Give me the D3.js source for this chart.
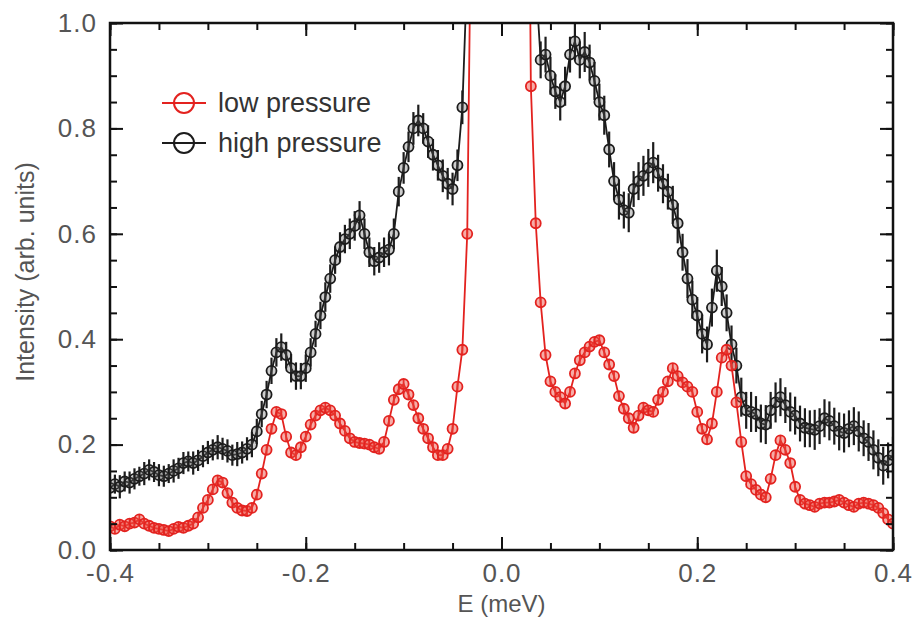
<!DOCTYPE html>
<html>
<head>
<meta charset="utf-8">
<script src="https://cdn.jsdelivr.net/npm/d3@7"></script>
<style>
  body { margin: 0; background: #fff; }
  svg { display: block; font-family: "Liberation Sans", Arial, sans-serif; }
</style>
</head>
<body>
<div id="chart"></div>
<script>
// energy transfer (meV), same grid for both spectra
const energy = [
  -0.400,-0.395,-0.390,-0.385,-0.380,-0.375,-0.370,-0.365,-0.360,-0.355,
  -0.350,-0.345,-0.340,-0.335,-0.330,-0.325,-0.320,-0.315,-0.310,-0.305,
  -0.300,-0.295,-0.290,-0.285,-0.280,-0.275,-0.270,-0.265,-0.260,-0.255,
  -0.250,-0.245,-0.240,-0.235,-0.230,-0.225,-0.220,-0.215,-0.210,-0.205,
  -0.200,-0.195,-0.190,-0.185,-0.180,-0.175,-0.170,-0.165,-0.160,-0.155,
  -0.150,-0.145,-0.140,-0.135,-0.130,-0.125,-0.120,-0.115,-0.110,-0.105,
  -0.100,-0.095,-0.090,-0.085,-0.080,-0.075,-0.070,-0.065,-0.060,-0.055,
  -0.050,-0.045,-0.040,-0.035,-0.030,-0.025,-0.020,-0.015,-0.010,-0.005,
   0.000, 0.005, 0.010, 0.015, 0.020, 0.025, 0.030, 0.035, 0.040, 0.045,
   0.050, 0.055, 0.060, 0.065, 0.070, 0.075, 0.080, 0.085, 0.090, 0.095,
   0.100, 0.105, 0.110, 0.115, 0.120, 0.125, 0.130, 0.135, 0.140, 0.145,
   0.150, 0.155, 0.160, 0.165, 0.170, 0.175, 0.180, 0.185, 0.190, 0.195,
   0.200, 0.205, 0.210, 0.215, 0.220, 0.225, 0.230, 0.235, 0.240, 0.245,
   0.250, 0.255, 0.260, 0.265, 0.270, 0.275, 0.280, 0.285, 0.290, 0.295,
   0.300, 0.305, 0.310, 0.315, 0.320, 0.325, 0.330, 0.335, 0.340, 0.345,
   0.350, 0.355, 0.360, 0.365, 0.370, 0.375, 0.380, 0.385, 0.390, 0.395,
   0.400
]

// low pressure intensity (elastic line goes far off scale)
const lowPressure = [
  0.045,0.040,0.048,0.045,0.050,0.052,0.058,0.050,0.046,0.042,
  0.040,0.038,0.036,0.040,0.044,0.042,0.046,0.050,0.062,0.080,
  0.095,0.115,0.132,0.128,0.108,0.090,0.080,0.075,0.074,0.080,
  0.105,0.145,0.190,0.230,0.262,0.258,0.215,0.185,0.180,0.195,
  0.215,0.238,0.255,0.265,0.270,0.265,0.255,0.240,0.226,0.212,
  0.205,0.203,0.202,0.200,0.195,0.192,0.205,0.245,0.285,0.305,
  0.315,0.295,0.275,0.250,0.230,0.212,0.195,0.180,0.180,0.192,
  0.230,0.310,0.380,0.600,1.400,3.000,6.000,9.000,12.00,14.00,
  15.00,14.00,12.00,9.000,6.000,2.000,0.880,0.620,0.470,0.370,
  0.320,0.300,0.290,0.278,0.300,0.335,0.360,0.375,0.386,0.395,
  0.398,0.375,0.352,0.330,0.292,0.268,0.250,0.232,0.255,0.270,
  0.265,0.262,0.285,0.300,0.320,0.345,0.330,0.318,0.310,0.300,
  0.262,0.230,0.210,0.240,0.300,0.365,0.380,0.350,0.280,0.205,
  0.140,0.125,0.114,0.105,0.100,0.135,0.180,0.208,0.190,0.165,
  0.120,0.095,0.088,0.085,0.082,0.088,0.090,0.090,0.092,0.095,
  0.090,0.085,0.082,0.088,0.090,0.088,0.085,0.080,0.070,0.058,
  0.050
]
const lowErr = 0.009

const highPressure = [
  0.118,0.125,0.120,0.130,0.128,0.135,0.140,0.145,0.152,0.148,
  0.142,0.140,0.145,0.150,0.155,0.165,0.168,0.165,0.170,0.178,
  0.185,0.190,0.195,0.192,0.188,0.180,0.182,0.185,0.192,0.200,
  0.225,0.258,0.295,0.340,0.375,0.385,0.370,0.345,0.330,0.330,
  0.345,0.375,0.410,0.445,0.480,0.515,0.550,0.575,0.590,0.600,
  0.615,0.635,0.600,0.565,0.548,0.555,0.565,0.570,0.600,0.680,
  0.725,0.765,0.800,0.815,0.800,0.775,0.750,0.730,0.710,0.695,
  0.685,0.730,0.840,1.100,1.600,3.000,6.000,10.00,14.00,18.00,
  20.00,18.00,14.00,10.00,6.000,3.000,1.600,1.080,0.930,0.940,
  0.900,0.870,0.850,0.880,0.940,0.965,0.930,0.945,0.925,0.890,
  0.850,0.825,0.760,0.700,0.665,0.645,0.640,0.685,0.700,0.710,
  0.725,0.735,0.715,0.695,0.680,0.655,0.620,0.565,0.515,0.475,
  0.445,0.410,0.390,0.460,0.530,0.500,0.450,0.390,0.350,0.290,
  0.265,0.262,0.258,0.240,0.238,0.265,0.280,0.290,0.275,0.262,
  0.255,0.240,0.232,0.230,0.228,0.235,0.250,0.245,0.235,0.225,
  0.222,0.230,0.235,0.225,0.212,0.205,0.190,0.175,0.160,0.170,
  0.180
]
const highErr = [
  0.020,0.018,0.022,0.019,0.021,0.020,0.018,0.022,0.020,0.019,
  0.021,0.020,0.018,0.022,0.020,0.021,0.019,0.022,0.020,0.021,
  0.022,0.020,0.023,0.021,0.022,0.020,0.023,0.021,0.022,0.024,
  0.024,0.025,0.026,0.025,0.027,0.026,0.025,0.027,0.026,0.025,
  0.026,0.027,0.025,0.026,0.028,0.027,0.026,0.028,0.027,0.029,
  0.028,0.027,0.029,0.028,0.027,0.029,0.028,0.030,0.029,0.028,
  0.030,0.029,0.031,0.030,0.029,0.031,0.030,0.029,0.031,0.030,
  0.031,0.030,0.032,0.030,0.030,0.030,0.030,0.030,0.030,0.030,
  0.030,0.030,0.030,0.030,0.030,0.030,0.030,0.032,0.035,0.034,
  0.036,0.033,0.035,0.037,0.034,0.036,0.035,0.038,0.034,0.036,
  0.035,0.037,0.034,0.036,0.038,0.035,0.037,0.034,0.036,0.038,
  0.036,0.039,0.035,0.037,0.034,0.036,0.038,0.035,0.037,0.036,
  0.035,0.037,0.034,0.036,0.040,0.037,0.035,0.036,0.034,0.037,
  0.035,0.038,0.034,0.036,0.037,0.035,0.038,0.036,0.034,0.037,
  0.036,0.034,0.037,0.035,0.038,0.034,0.036,0.037,0.035,0.036,
  0.037,0.035,0.036,0.038,0.034,0.036,0.037,0.035,0.036,0.034,
  0.035
]

const xTicks = [-0.4, -0.2, 0.0, 0.2, 0.4]
const yTicks = [0.0, 0.2, 0.4, 0.6, 0.8, 1.0]

let width = 912, height = 623
let plot = {left: 110, right: 893, top: 23, bottom: 550}

let svg = d3.select('#chart').append('svg')
  .attr('width', width)
  .attr('height', height)
  .style('background-color', '#FFFFFF')

let x = d3.scaleLinear().domain([-0.4, 0.4]).range([plot.left, plot.right])
let y = d3.scaleLinear().domain([0, 1]).range([plot.bottom, plot.top])

svg.append('clipPath').attr('id', 'clip')
  .append('rect')
  .attr('x', plot.left).attr('y', plot.top)
  .attr('width', plot.right - plot.left)
  .attr('height', plot.bottom - plot.top)

function series(values, err) {
  return energy.map(function(e, i) {
    return {e: e, v: values[i], err: Array.isArray(err) ? err[i] : err}
  })
}

let sets = [
  {name: 'high pressure', data: series(highPressure, highErr), color: '#1c1c1c', fill: 'rgba(90,90,90,0.3)', ew: 2.2},
  {name: 'low pressure', data: series(lowPressure, lowErr), color: '#e3221f', fill: 'rgba(235,70,60,0.45)', ew: 1.8}
]

let line = d3.line()
  .x(function(d) { return x(d.e) })
  .y(function(d) { return y(d.v) })

let g = svg.append('g').attr('clip-path', 'url(#clip)')

sets.forEach(function(s) {
  let grp = g.append('g')
  grp.append('path')
    .attr('d', line(s.data))
    .attr('fill', 'none')
    .attr('stroke', s.color)
    .attr('stroke-width', 1.8)

  grp.selectAll('.err')
    .data(s.data)
    .enter().append('line')
    .attr('x1', function(d) { return x(d.e) })
    .attr('x2', function(d) { return x(d.e) })
    .attr('y1', function(d) { return y(d.v - d.err) })
    .attr('y2', function(d) { return y(d.v + d.err) })
    .attr('stroke', s.color)
    .attr('stroke-width', s.ew)

  grp.selectAll('circle')
    .data(s.data)
    .enter().append('circle')
    .attr('cx', function(d) { return x(d.e) })
    .attr('cy', function(d) { return y(d.v) })
    .attr('r', 5)
    .attr('fill', s.fill)
    .attr('stroke', s.color)
    .attr('stroke-width', 1.8)
})

// ticks: major labelled, minor every 0.05, all pointing inward on four sides
let xMinor = d3.range(-0.4, 0.4001, 0.05)
let yMinor = d3.range(0, 1.0001, 0.05)
let fmt = function(d) { return d3.format('.1f')(d).replace('\u2212', '-') }

function styleAxis(sel) {
  sel.select('.domain').remove()
  sel.selectAll('line').attr('stroke', '#111').attr('stroke-width', 2)
  sel.selectAll('text')
    .attr('fill', '#555')
    .style('font-size', '26px')
    .style('letter-spacing', '1px')
}

svg.append('g').attr('transform', 'translate(0,' + plot.bottom + ')')
  .call(d3.axisBottom(x).tickValues(xMinor).tickSize(-7).tickFormat(''))
  .call(styleAxis)
svg.append('g').attr('transform', 'translate(0,' + plot.bottom + ')')
  .call(d3.axisBottom(x).tickValues(xTicks).tickSize(-13).tickPadding(14).tickFormat(fmt))
  .call(styleAxis)
svg.append('g').attr('transform', 'translate(0,' + plot.top + ')')
  .call(d3.axisTop(x).tickValues(xMinor).tickSize(-7).tickFormat(''))
  .call(styleAxis)
svg.append('g').attr('transform', 'translate(0,' + plot.top + ')')
  .call(d3.axisTop(x).tickValues(xTicks).tickSize(-13).tickFormat(''))
  .call(styleAxis)

svg.append('g').attr('transform', 'translate(' + plot.left + ',0)')
  .call(d3.axisLeft(y).tickValues(yMinor).tickSize(-7).tickFormat(''))
  .call(styleAxis)
svg.append('g').attr('transform', 'translate(' + plot.left + ',0)')
  .call(d3.axisLeft(y).tickValues(yTicks).tickSize(-13).tickPadding(13).tickFormat(fmt))
  .call(styleAxis)
svg.append('g').attr('transform', 'translate(' + plot.right + ',0)')
  .call(d3.axisRight(y).tickValues(yMinor).tickSize(-7).tickFormat(''))
  .call(styleAxis)
svg.append('g').attr('transform', 'translate(' + plot.right + ',0)')
  .call(d3.axisRight(y).tickValues(yTicks).tickSize(-13).tickFormat(''))
  .call(styleAxis)

// frame
svg.append('rect')
  .attr('x', plot.left).attr('y', plot.top)
  .attr('width', plot.right - plot.left)
  .attr('height', plot.bottom - plot.top)
  .attr('fill', 'none')
  .attr('stroke', '#111')
  .attr('stroke-width', 2.5)

// axis titles
svg.append('text')
  .attr('x', (plot.left + plot.right) / 2)
  .attr('y', 612)
  .attr('text-anchor', 'middle')
  .attr('fill', '#555')
  .style('font-size', '24px')
  .text('E (meV)')

svg.append('text')
  .attr('transform', 'translate(34,272) rotate(-90)')
  .attr('text-anchor', 'middle')
  .attr('fill', '#555')
  .style('font-size', '25px')
  .text('Intensity (arb. units)')

// legend
let legend = svg.selectAll('.legend')
  .data(sets.slice().reverse())
  .enter().append('g')
  .attr('class', 'legend')
  .attr('transform', function(d, i) { return 'translate(0,' + (103 + i * 40) + ')' })

legend.append('line')
  .attr('x1', 162).attr('x2', 206)
  .attr('stroke', function(d) { return d.color })
  .attr('stroke-width', 2)
legend.append('circle')
  .attr('cx', 184).attr('r', 10)
  .attr('fill', 'none')
  .attr('stroke', function(d) { return d.color })
  .attr('stroke-width', 2)
legend.append('text')
  .attr('x', 218)
  .attr('dy', '0.35em')
  .attr('fill', '#333')
  .style('font-size', '27px')
  .text(function(d) { return d.name })
</script>
</body>
</html>
